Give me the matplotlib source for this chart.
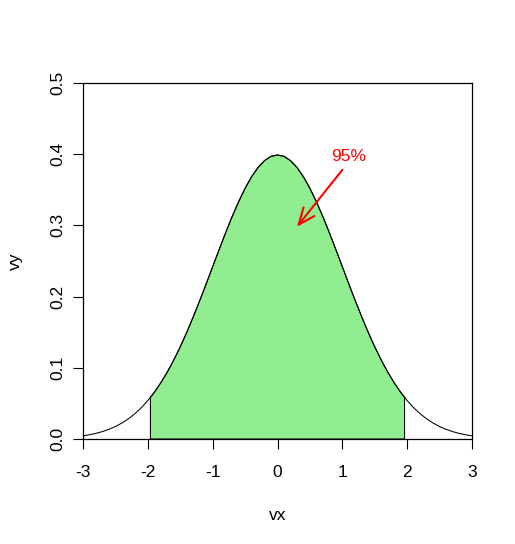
import matplotlib
matplotlib.use("Agg")
import matplotlib.pyplot as plt
import numpy as np

# density curve (x step 0.1, symmetric)
vx = [-3.0, -2.9, -2.8, -2.7, -2.6, -2.5, -2.4, -2.3, -2.2, -2.1, -2.0,
      -1.9, -1.8, -1.7, -1.6, -1.5, -1.4, -1.3, -1.2, -1.1, -1.0,
      -0.9, -0.8, -0.7, -0.6, -0.5, -0.4, -0.3, -0.2, -0.1, 0.0,
      0.1, 0.2, 0.3, 0.4, 0.5, 0.6, 0.7, 0.8, 0.9, 1.0,
      1.1, 1.2, 1.3, 1.4, 1.5, 1.6, 1.7, 1.8, 1.9, 2.0,
      2.1, 2.2, 2.3, 2.4, 2.5, 2.6, 2.7, 2.8, 2.9, 3.0]
vy = [0.0044, 0.0060, 0.0079, 0.0104, 0.0136, 0.0175, 0.0224, 0.0283, 0.0355, 0.0440, 0.0540,
      0.0656, 0.0790, 0.0940, 0.1109, 0.1295, 0.1497, 0.1714, 0.1942, 0.2179, 0.2420,
      0.2661, 0.2897, 0.3123, 0.3332, 0.3521, 0.3683, 0.3814, 0.3910, 0.3970, 0.3989,
      0.3970, 0.3910, 0.3814, 0.3683, 0.3521, 0.3332, 0.3123, 0.2897, 0.2661, 0.2420,
      0.2179, 0.1942, 0.1714, 0.1497, 0.1295, 0.1109, 0.0940, 0.0790, 0.0656, 0.0540,
      0.0440, 0.0355, 0.0283, 0.0224, 0.0175, 0.0136, 0.0104, 0.0079, 0.0060, 0.0044]

# shaded 95% region bounds and their curve heights
shade_lo, shade_hi = -1.96, 1.96
shade_h = 0.0584

label_text = "95%"
label_xy = (1.1, 0.397)
arrow_from = (1.0, 0.378)
arrow_to = (0.3, 0.298)

xticks = [-3, -2, -1, 0, 1, 2, 3]
yticks = [0.0, 0.1, 0.2, 0.3, 0.4, 0.5]

plt.rcParams['font.family'] = ['Liberation Sans', 'DejaVu Sans']

W, H = 515, 544
fig = plt.figure(figsize=(W / 100, H / 100), dpi=100)
L, R, T, B = 83, 472, 83, 439
ax = fig.add_axes([L / W, 1 - B / H, (R - L) / W, (B - T) / H])

# polygon for the shaded area
px = [shade_lo] + [x for x in vx if shade_lo < x < shade_hi] + [shade_hi]
py = [shade_h] + [y for x, y in zip(vx, vy) if shade_lo < x < shade_hi] + [shade_h]
poly_x = [shade_lo] + px + [shade_hi]
poly_y = [0] + py + [0]
ax.fill(poly_x, poly_y, facecolor='#90EE90', edgecolor='black', linewidth=0.75)
ax.plot(vx, vy, color='black', linewidth=0.75)

ax.annotate('', xy=arrow_to, xytext=arrow_from,
            arrowprops=dict(arrowstyle='->,head_length=1.2,head_width=0.5',
                            color='red', lw=1.5, shrinkA=0, shrinkB=0))
ax.text(label_xy[0], label_xy[1], label_text, color='red', fontsize=12.5,
        ha='center', va='center')

ax.set_xlim(-3, 3)
ax.set_ylim(0, 0.5)
ax.set_xticks(xticks)
ax.set_xticklabels([str(t) for t in xticks])
ax.set_yticks(yticks)
ax.set_yticklabels(["0.0", "0.1", "0.2", "0.3", "0.4", "0.5"], rotation=90, va='center')
ax.tick_params(direction='out', length=7.5, width=0.8, labelsize=12.5)
ax.tick_params(axis='x', pad=11.5)
ax.tick_params(axis='y', pad=5)
for s in ax.spines.values():
    s.set_linewidth(0.9)
ax.set_xlabel('vx', fontsize=12.5, labelpad=20)
ax.set_ylabel('vy', fontsize=12.5, labelpad=20)

fig.savefig('out.png', dpi=100)
